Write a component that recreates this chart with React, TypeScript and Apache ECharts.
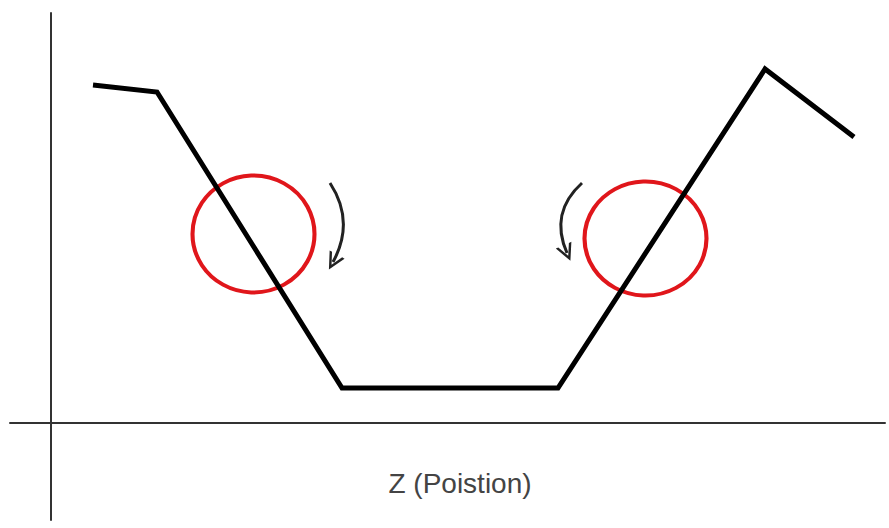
import React, { useEffect, useRef } from "react";
import * as echarts from "echarts";

// Profile along Z (position): x values and heights
const profileX = [42, 106, 291, 507, 714, 803];
const profileY = [338, 331, 35, 35, 354, 286];

// Highlighted regions (centres)
const circleX = [202.5, 594.5];
const circleY = [189, 184.5];

// Curved arrows: [startX, startY] -> [endX, endY]
const arrowStart = [[279, 240], [531, 240]];
const arrowEnd = [[282, 161], [516, 170]];
const arrowCurve = [0.3, -0.36];

const axisName = "Z (Poistion)";

export default function App() {
  const ref = useRef<HTMLDivElement>(null);
  useEffect(() => {
    if (!ref.current) return;
    const chart = echarts.init(ref.current, undefined, { renderer: "svg" });
    const vee = "path://M0,10 L5,0 L10,10 L8.4,10 L5,3.2 L1.6,10 Z";
    chart.setOption({
      animation: false,
      backgroundColor: "#ffffff",
      grid: { left: 10, right: 4, top: 13, bottom: 8, containLabel: false, outerBoundsMode: "none" },
      graphic: [
        {
          type: "text",
          x: 460,
          y: 483,
          style: {
            text: axisName,
            fontFamily: "Liberation Sans, Arial, sans-serif",
            fontSize: 28,
            fill: "#444",
            align: "center",
            verticalAlign: "middle",
          },
        },
      ],
      xAxis: {
        type: "value",
        min: -41,
        max: 834,
        axisLine: { show: true, onZero: true, lineStyle: { color: "#333", width: 2 } },
        axisTick: { show: false },
        axisLabel: { show: false },
        splitLine: { show: false },
      },
      yAxis: {
        type: "value",
        min: -97,
        max: 410,
        axisLine: { show: true, onZero: true, lineStyle: { color: "#333", width: 2 } },
        axisTick: { show: false },
        axisLabel: { show: false },
        splitLine: { show: false },
      },
      series: [
        {
          type: "scatter",
          z: 2,
          symbol: "circle",
          data: [
            { value: [circleX[0], circleY[0]], symbolSize: [122, 117] },
            { value: [circleX[1], circleY[1]], symbolSize: [122, 114] },
          ],
          itemStyle: { color: "rgba(0,0,0,0)", borderColor: "#e0161b", borderWidth: 4, opacity: 1 },
          emphasis: { disabled: true },
        },
        {
          type: "lines",
          coordinateSystem: "cartesian2d",
          z: 3,
          symbol: ["none", vee],
          symbolSize: 17,
          lineStyle: { color: "#222", width: 3, opacity: 1 },
          data: arrowStart.map((s, i) => ({
            coords: [s, arrowEnd[i]],
            lineStyle: { curveness: arrowCurve[i] },
          })),
        },
        {
          type: "line",
          z: 4,
          showSymbol: false,
          symbol: "none",
          data: profileX.map((x, i) => [x, profileY[i]]),
          lineStyle: { color: "#000", width: 5, join: "miter" },
        },
      ],
    });
    return () => chart.dispose();
  }, []);
  return (
    <div
      ref={ref}
      style={{ position: "fixed", left: 0, top: 0, width: 889, height: 528, background: "#fff" }}
    />
  );
}
